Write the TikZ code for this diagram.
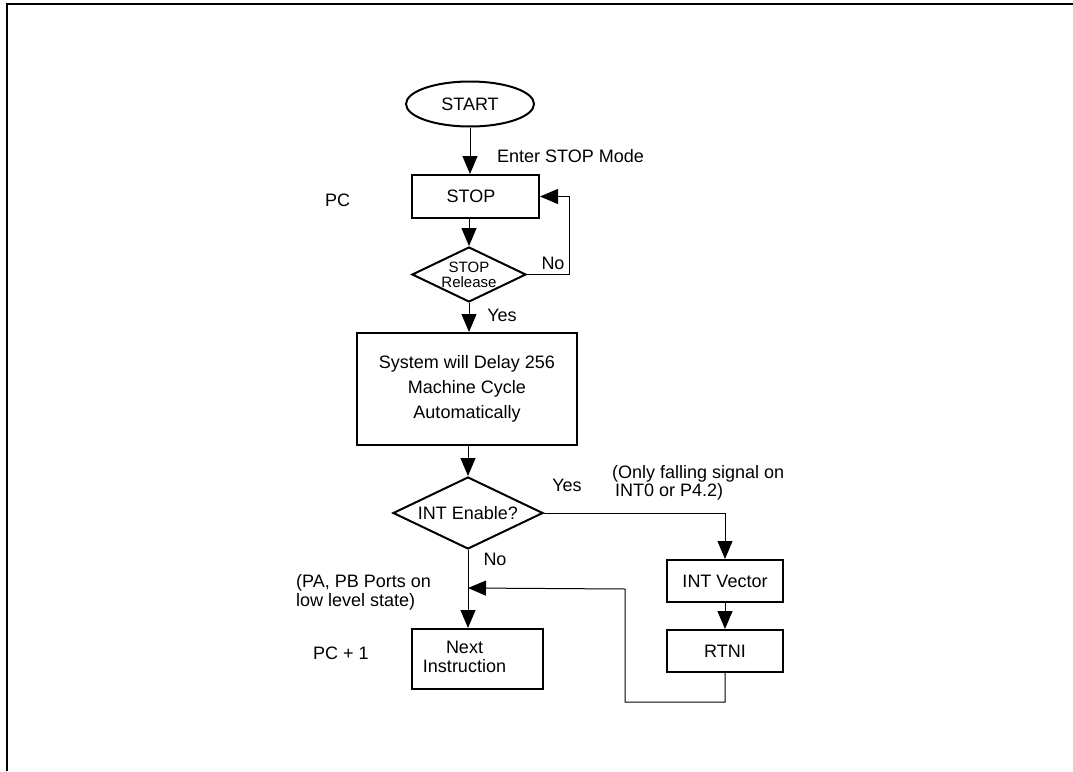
\documentclass[tikz,border=0pt]{standalone}
\usepackage{fontspec}
\setmainfont{Liberation Sans}
\usetikzlibrary{shapes.geometric,arrows.meta}
\begin{document}
\begin{tikzpicture}[x=1pt,y=-1pt,
  every node/.style={font=\fontsize{18}{22}\selectfont},
  box/.style={draw, line width=2pt, inner sep=0pt, align=center},
  dia/.style={draw, diamond, line width=2pt, inner sep=0pt, shape aspect=2, align=center},
  conn/.style={line width=1pt, -{Triangle[length=18pt,width=15pt]}},
  wire/.style={line width=1pt},
  lbl/.style={inner sep=0pt}]
\useasboundingbox (0,0) rectangle (1073,771);
\draw[line width=2.2pt] (7,771) -- (7,4) -- (1073,4);

\node[draw, ellipse, line width=2pt, minimum width=128pt, minimum height=45pt, inner sep=0pt] (start) at (470,104) {START};
\node[box, minimum width=127pt, minimum height=43pt] (stop) at (475.5,196.5) {\hspace*{-9pt}STOP};
\node[dia, minimum width=114pt, minimum height=55pt, font=\fontsize{15}{15}\selectfont] (rel) at (469,274.5) {STOP\\Release};
\node[box, minimum width=220pt, minimum height=112pt, font=\fontsize{18}{25}\selectfont] (delay) at (467,389) {System will Delay 256\\Machine Cycle\\Automatically};
\node[dia, minimum width=150pt, minimum height=72pt] (int) at (468,513) {INT Enable?};
\node[box, minimum width=116pt, minimum height=42pt] (vec) at (725,581) {INT Vector};
\node[box, minimum width=116pt, minimum height=42pt] (rtni) at (725,651) {RTNI};
\node[box, minimum width=131pt, minimum height=60pt, font=\fontsize{18}{19}\selectfont] (next) at (477.5,659) {\hspace*{-26pt}\begin{tabular}{@{}c@{}}Next\\Instruction\end{tabular}};

% labels
\node[lbl, anchor=west] (enter) at (497,156) {Enter STOP Mode};
\node[lbl] (pc) at (337.5,200) {PC};
\node[lbl] (no1) at (553,263) {No};
\node[lbl] (yes1) at (502,315) {Yes};
\node[lbl] (yes2) at (567,485) {Yes};
\node[lbl, anchor=west, align=left, font=\fontsize{18}{15}\selectfont] (only) at (612,483) {(Only falling signal on\\\hspace*{3pt}INT0 or P4.2)};
\node[lbl] (no2) at (495,559) {No};
\node[lbl, anchor=west, align=left, font=\fontsize{18}{19}\selectfont] (pa) at (296,592.5) {(PA, PB Ports on\\low level state)};
\node[lbl] (pc1) at (341,653) {PC + 1};

% connectors
\draw[conn] (start.south) -- (start.south |- stop.north);
\draw[conn] (rel.north |- stop.south) -- (rel.north);
\draw[conn] (rel.east) -- ++(42,0) |- (stop.east);
\draw[conn] (rel.south) -- (rel.south |- delay.north);
\draw[conn] (int.north |- delay.south) -- (int.north);
\draw[conn] (int.east) -| (vec.north);
\draw[conn] (vec.south) -- (rtni.north);
\draw[conn] (int.south) -- (int.south |- next.north);
\coordinate (join) at (int.south |- 0,588);
\draw[conn] (rtni.south) -- ++(0,29) -| ++(-100,-113) -- (join);
\end{tikzpicture}
\end{document}
